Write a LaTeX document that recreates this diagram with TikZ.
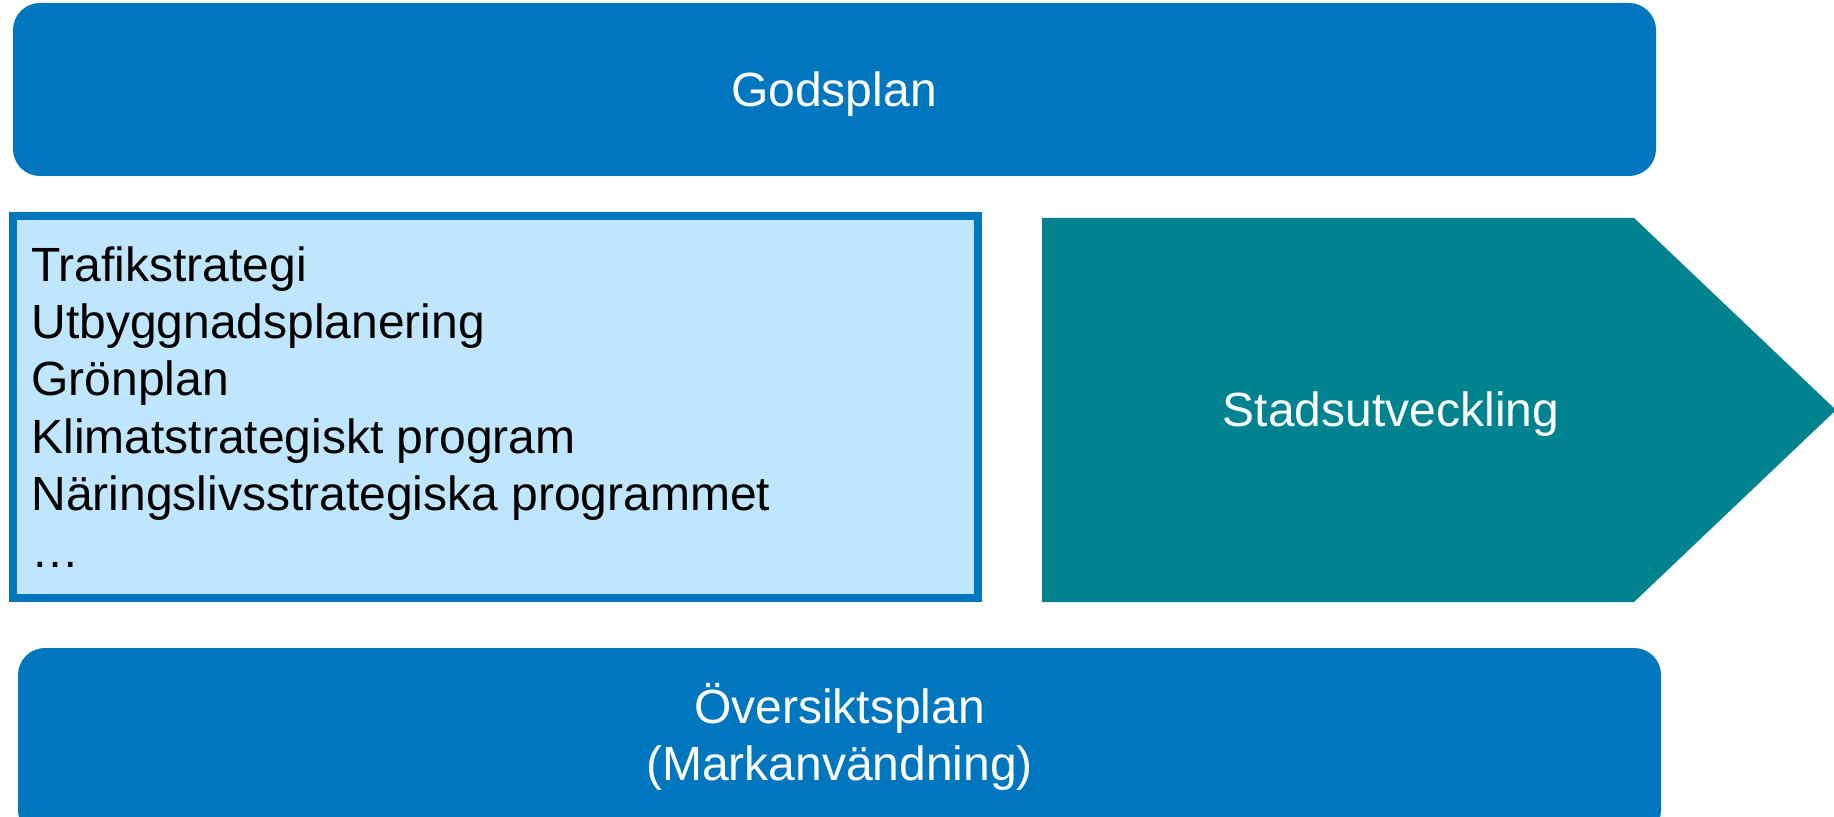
\documentclass[tikz,border=0pt]{standalone}
\usepackage{fontspec}
\setmainfont{Liberation Sans}
\definecolor{planblue}{RGB}{0,118,190}
\definecolor{lightblue}{RGB}{191,230,252}
\definecolor{stadteal}{RGB}{0,131,143}

\begin{document}
\begin{tikzpicture}[x=0.5pt,y=-0.5pt,
  txt/.style={inner sep=0pt,font=\fontsize{24pt}{28.5pt}\selectfont},
  whitetxt/.style={txt,text=white}]
\useasboundingbox (0,0) rectangle (1834,817);
% plan boxes
\fill[color=planblue,rounded corners=13.5pt] (13,3) rectangle (1656,176);
\fill[color=planblue,rounded corners=13.5pt] (18,648) rectangle (1661,817+20);
% program box
\draw[fill=lightblue,draw=planblue,line width=4pt] (13,216) rectangle (978,598);
% arrow
\fill[color=stadteal] (1042,218)--(1634,218)--(1836,410)--(1634,602)--(1042,602)--cycle;
\node[whitetxt,anchor=base] (gods) at (834,107) {Godsplan};
\node[whitetxt,anchor=base] (stad) at (1391,427) {Stadsutveckling};
\node[whitetxt,anchor=base] (oversikt) at (839.5,723) {Översiktsplan};
\node[whitetxt,anchor=base] (mark) at (839.5,780) {(Markanvändning)};
\foreach \txt [count=\i] in {Trafikstrategi,Utbyggnadsplanering,Grönplan,
  Klimatstrategiskt program,Näringslivsstrategiska programmet,…}{
\node[txt,anchor=base west] (prog\i) at (31,{282+57*(\i-1)}) {\txt};
}
\end{tikzpicture}
\end{document}
